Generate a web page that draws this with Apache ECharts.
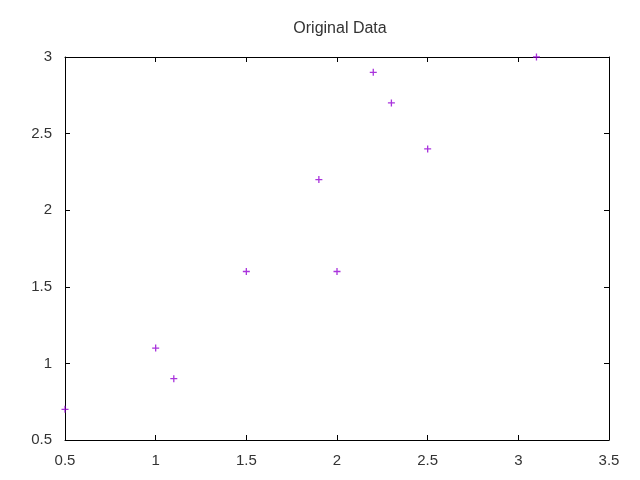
<!DOCTYPE html>
<html><head><meta charset="utf-8">
<script src="https://cdn.jsdelivr.net/npm/echarts@6/dist/echarts.min.js"></script>
<style>html,body{margin:0;padding:0;background:#fff}#c{width:640px;height:480px}</style>
</head><body><div id="c"></div>
<script>
const title = "Original Data";
const xValues = [2.5, 0.5, 2.2, 1.9, 3.1, 2.3, 2.0, 1.0, 1.5, 1.1];
const yValues = [2.4, 0.7, 2.9, 2.2, 3.0, 2.7, 1.6, 1.1, 1.6, 0.9];
const xRange = [0.5, 3.5], xStep = 0.5;
const yRange = [0.5, 3], yStep = 0.5;

const pts = xValues.map((x, i) => [x, yValues[i]]);
const chart = echarts.init(document.getElementById('c'), null, {renderer: 'canvas'});
const font = 'Liberation Sans, Arial, sans-serif';
function ax(pos, range, step, show) {
  return {
    type: 'value', position: pos, min: range[0], max: range[1], interval: step,
    axisLine: {show: true, onZero: false, lineStyle: {color: '#000', width: 1}},
    axisTick: {show: true, inside: true, length: 5, lineStyle: {color: '#000'}},
    axisLabel: {show: show, color: '#333', fontFamily: font, fontSize: 15, margin: 13,
      formatter: v => String(Math.round(v * 10) / 10)},
    splitLine: {show: false}
  };
}
chart.setOption({
  animation: false,
  backgroundColor: '#fff',
  title: {text: title, left: 335, textAlign: 'center', top: 16,
    textStyle: {fontFamily: font, fontSize: 16, fontWeight: 'normal', color: '#333'}},
  grid: {left: 65, right: 31, top: 57, bottom: 40, containLabel: false},
  xAxis: [ax('bottom', xRange, xStep, true), ax('top', xRange, xStep, false)],
  yAxis: [ax('left', yRange, yStep, true), ax('right', yRange, yStep, false)],
  series: [{
    type: 'scatter', data: pts, xAxisIndex: 0, yAxisIndex: 0,
    symbol: 'path://M0,2.85h7v1.3h-7zM2.85,0h1.3v7h-1.3z', symbolSize: 7,
    itemStyle: {color: '#9400D3'}
  }]
});
</script></body></html>
